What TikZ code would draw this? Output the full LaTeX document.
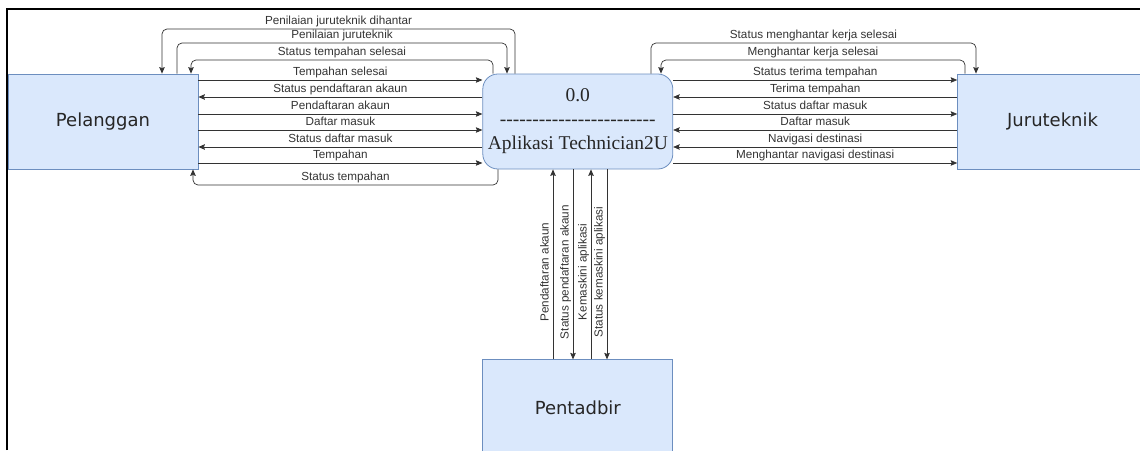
\documentclass[tikz,border=0pt]{standalone}
\usepackage{fontspec}
\setmainfont{Liberation Sans}
\newfontfamily\boxfont{DejaVu Sans}
\newfontfamily\procfont{Liberation Serif}
\usetikzlibrary{positioning,arrows.meta}

\definecolor{boxfill}{HTML}{DAE8FC}
\definecolor{boxline}{HTML}{6C8EBF}
\definecolor{ink}{HTML}{333333}

\begin{document}
\begin{tikzpicture}[x=1pt, y=-1pt, >={Stealth[length=6.5pt,width=5.5pt,inset=1pt]},
        entity/.style={draw=boxline, fill=boxfill, line width=0.8pt, minimum width=190pt, minimum height=95pt,
            text=black!85, font=\boxfont\fontsize{18}{22}\selectfont},
        process/.style={entity, rounded corners=15pt, align=center, font=\procfont\fontsize{19.5}{24}\selectfont},
        flow/.style={->, draw=ink, line width=0.7pt, rounded corners=5pt},
        lbl/.style={font=\fontsize{11.7}{13}\selectfont, text=ink, inner sep=1.5pt, text height=8pt, text depth=2.5pt}]
        \useasboundingbox (0,0) rectangle (1140,450);
        \clip (0,0) rectangle (1140,450);

        % Define entities
        \node[entity] (Pelanggan) at (103,121.5) {Pelanggan};
        \node[process, right=284pt of Pelanggan] (Proses) {0.0\\\foreach \k in {1,...,24}{-}\\Aplikasi Technician2U};
        \node[entity, right=284pt of Proses] (Juruteknik) {Juruteknik};
        \node[entity, below=190pt of Proses] (Pentadbir) {Pentadbir};

        % Frame
        \draw[line width=2pt] (7,450) -- (7,9) -- (1140,9);

        % Pelanggan <-> Aplikasi
        \draw[flow] (Proses.north -| 515,0) -- (515,29) -| node[pos=.25, above, lbl] {Penilaian juruteknik dihantar} (Pelanggan.north -| 162,0);
        \draw[flow] (Pelanggan.north -| 177,0) -- (177,43) -| node[pos=.25, above, lbl] {Penilaian juruteknik} (Proses.north -| 507,0);
        \draw[flow] (Proses.north -| 493,0) -- (493,60) -| node[pos=.25, above, lbl] {Status tempahan selesai} (Pelanggan.north -| 191,0);
        \draw[flow] (Pelanggan.east |- 0,80) -- node[above, lbl] {Tempahan selesai} (Proses.west |- 0,80);
        \draw[flow] (Proses.west |- 0,97) -- node[above, lbl] {Status pendaftaran akaun} (Pelanggan.east |- 0,97);
        \draw[flow] (Pelanggan.east |- 0,114) -- node[above, lbl] {Pendaftaran akaun} (Proses.west |- 0,114);
        \draw[flow] (Pelanggan.east |- 0,130) -- node[above, lbl] {Daftar masuk} (Proses.west |- 0,130);
        \draw[flow] (Proses.west |- 0,147) -- node[above, lbl] {Status daftar masuk} (Pelanggan.east |- 0,147);
        \draw[flow] (Pelanggan.east |- 0,163) -- node[above, lbl] {Tempahan} (Proses.west |- 0,163);
        \draw[flow] (Proses.south -| 498,0) -- (498,185) -| node[pos=.25, above, lbl] {Status tempahan} (Pelanggan.south -| 193,0);

        % Aplikasi <-> Juruteknik
        \draw[flow] (Proses.north -| 651,0) -- (651,43) -| node[pos=.25, above, lbl] {Status menghantar kerja selesai} (Juruteknik.north -| 976,0);
        \draw[flow] (Juruteknik.north -| 965,0) -- (965,60) -| node[pos=.25, above, lbl] {Menghantar kerja selesai} (Proses.north -| 661,0);
        \draw[flow] (Proses.east |- 0,80) -- node[above, lbl] {Status terima tempahan} (Juruteknik.west |- 0,80);
        \draw[flow] (Juruteknik.west |- 0,97) -- node[above, lbl] {Terima tempahan} (Proses.east |- 0,97);
        \draw[flow] (Proses.east |- 0,114) -- node[above, lbl] {Status daftar masuk} (Juruteknik.west |- 0,114);
        \draw[flow] (Juruteknik.west |- 0,130) -- node[above, lbl] {Daftar masuk} (Proses.east |- 0,130);
        \draw[flow] (Juruteknik.west |- 0,147) -- node[above, lbl] {Navigasi destinasi} (Proses.east |- 0,147);
        \draw[flow] (Proses.east |- 0,163) -- node[above, lbl] {Menghantar navigasi destinasi} (Juruteknik.west |- 0,163);

        % Aplikasi <-> Pentadbir
        \draw[flow] (Pentadbir.north -| 553,0) -- node[pos=.46, rotate=90, above, lbl] {Pendaftaran akaun} (Proses.south -| 553,0);
        \draw[flow] (Proses.south -| 573,0) -- node[pos=.54, rotate=90, above, lbl] {Status pendaftaran akaun} (Pentadbir.north -| 573,0);
        \draw[flow] (Pentadbir.north -| 591,0) -- node[pos=.46, rotate=90, above, lbl] {Kemaskini aplikasi} (Proses.south -| 591,0);
        \draw[flow] (Proses.south -| 607,0) -- node[pos=.54, rotate=90, above, lbl] {Status kemaskini aplikasi} (Pentadbir.north -| 607,0);
\end{tikzpicture}
\end{document}
